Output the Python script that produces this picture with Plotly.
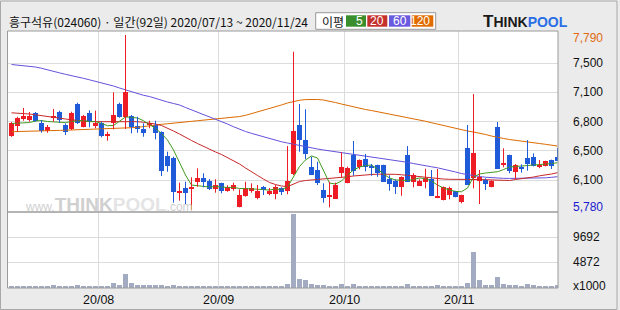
import plotly.graph_objects as go

# ---------------- data ----------------
title_text = "흥구석유(024060) · 일간(92일) 2020/07/13 ~ 2020/11/24"

open_ = [6629, 6744, 6828, 6813, 6894, 6775, 6690, 6840, 6909, 6752,
         6710, 6997, 6736, 6894, 6744, 6775, 6637, 6775, 6997, 6851,
         6859, 6744, 6710, 6752, 6756, 6675, 6400, 6380, 5986, 6032,
         6024, 6104, 6147, 6112, 6024, 6086, 6001, 6024, 5817, 5943,
         6001, 5914, 6047, 5963, 5963, 6032, 6001, 6193, 6756, 6583,
         6277, 6239, 6009, 5932, 5909, 6208, 6093, 6411, 6277, 6365,
         6277, 6296, 6296, 6135, 6112, 6047, 6411, 6104, 6058, 6104,
         6135, 5920, 5894, 5951, 5997, 5875, 6492, 6143, 6112, 6124,
         6047, 6733, 6300, 6411, 6219, 6262, 6377, 6388, 6270, 6285,
         6354, 6388]
high = [6790, 6851, 6951, 6905, 6905, 6813, 6756, 6940, 6920, 6775,
        6909, 7012, 6871, 6925, 6920, 6794, 6679, 7131, 7012, 7790,
        6871, 6851, 6775, 6805, 6805, 6683, 6449, 6392, 6093, 6104,
        6155, 6258, 6201, 6135, 6132, 6093, 6063, 6093, 6017, 6104,
        6086, 6066, 6055, 6032, 6066, 6040, 6514, 7598, 6997, 6936,
        6392, 6334, 6086, 6104, 6093, 6442, 6277, 6572, 6360, 6423,
        6308, 6300, 6300, 6178, 6132, 6165, 6514, 6201, 6132, 6254,
        6239, 6250, 6050, 6047, 6000, 5955, 6756, 7112, 6239, 6143,
        6120, 6790, 6488, 6415, 6308, 6304, 6583, 6430, 6354, 6345,
        6358, 6492]
low = [6620, 6679, 6805, 6794, 6794, 6667, 6667, 6794, 6782, 6641,
       6698, 6767, 6729, 6729, 6718, 6614, 6575, 6706, 6840, 6710,
       6660, 6667, 6621, 6718, 6591, 6170, 6219, 5863, 5886, 5848,
       5780, 6047, 6040, 6009, 5978, 5971, 5989, 6001, 5810, 5932,
       5978, 5902, 5951, 5948, 5902, 5951, 5960, 6180, 6449, 6362,
       6181, 6066, 5863, 5810, 5905, 6150, 6086, 6173, 6247, 6224,
       6173, 6162, 6101, 6001, 5963, 5943, 6101, 6040, 6055, 6028,
       5940, 5915, 5890, 5902, 5925, 5856, 6066, 6028, 5848, 6009,
       6040, 6250, 6270, 6201, 6135, 6208, 6231, 6280, 6260, 6280,
       6250, 6345]
close = [6782, 6833, 6859, 6859, 6805, 6687, 6729, 6851, 6813, 6679,
         6894, 6782, 6859, 6794, 6782, 6629, 6649, 6871, 6851, 7138,
         6729, 6713, 6667, 6782, 6667, 6231, 6288, 5989, 6001, 5978,
         6040, 6147, 6101, 6024, 6070, 6001, 6040, 6066, 5955, 6028,
         6035, 5994, 6009, 6001, 6040, 5986, 6112, 6687, 6583, 6423,
         6185, 6093, 5920, 5943, 6066, 6277, 6265, 6231, 6354, 6270,
         6262, 6208, 6104, 6078, 6047, 6162, 6104, 6181, 6112, 6143,
         5943, 5940, 6043, 6032, 5932, 5951, 6070, 6434, 6162, 6078,
         6116, 6254, 6308, 6231, 6293, 6254, 6308, 6285, 6293, 6342,
         6285, 6346]
volume = [260, 260, 260, 260, 260, 260, 260, 500, 260, 260,
          260, 500, 260, 260, 260, 260, 260, 890, 500, 2620,
          890, 500, 500, 500, 500, 500, 300, 500, 260, 260,
          260, 260, 260, 260, 260, 260, 260, 260, 260, 260,
          260, 260, 260, 260, 260, 260, 694, 14190, 1658, 1465,
          694, 500, 500, 260, 260, 694, 260, 694, 260, 260,
          260, 260, 260, 260, 260, 260, 694, 260, 260, 260,
          260, 500, 260, 260, 260, 260, 890, 6864, 1465, 500,
          500, 2040, 694, 500, 500, 260, 694, 500, 260, 260,
          260, 500]
ma5 = [6773, 6775, 6779, 6784, 6802, 6807, 6796, 6794, 6794, 6784,
       6796, 6802, 6807, 6794, 6796, 6773, 6748, 6750, 6796, 6848,
       6844, 6836, 6805, 6762, 6716, 6658, 6583, 6469, 6319, 6181,
       6066, 6061, 6049, 6043, 6049, 6043, 6038, 6040, 6026, 6026,
       6020, 6015, 6015, 6009, 6020, 6015, 6043, 6158, 6279, 6354,
       6400, 6377, 6239, 6089, 6078, 6112, 6181, 6239, 6273, 6290,
       6296, 6250, 6193, 6147, 6124, 6118, 6118, 6130, 6147, 6141,
       6112, 6066, 6032, 6009, 5992, 5989, 6032, 6158, 6193, 6204,
       6210, 6219, 6244, 6273, 6279, 6285, 6285, 6290, 6296, 6308,
       6313, 6323]
ma20 = [6896, 6894, 6890, 6882, 6873, 6865, 6856, 6848, 6834, 6825,
        6815, 6807, 6802, 6796, 6794, 6794, 6794, 6796, 6798, 6802,
        6798, 6794, 6787, 6779, 6767, 6750, 6721, 6687, 6652, 6612,
        6578, 6543, 6509, 6474, 6446, 6417, 6382, 6348, 6308, 6262,
        6216, 6176, 6135, 6095, 6072, 6055, 6047, 6078, 6107, 6118,
        6124, 6124, 6130, 6135, 6143, 6153, 6161, 6170, 6178, 6184,
        6187, 6191, 6193, 6193, 6189, 6184, 6176, 6167, 6161, 6153,
        6144, 6139, 6135, 6132, 6130, 6127, 6127, 6130, 6130, 6126,
        6122, 6118, 6116, 6118, 6130, 6138, 6147, 6158, 6172, 6181,
        6193, 6208]
ma60 = [7451, 7445, 7439, 7434, 7422, 7408, 7393, 7376, 7355, 7338,
        7325, 7310, 7292, 7275, 7258, 7241, 7221, 7204, 7181, 7158,
        7135, 7112, 7097, 7083, 7060, 7040, 7020, 7003, 6986, 6957,
        6930, 6905, 6882, 6853, 6825, 6796, 6767, 6736, 6704, 6681,
        6660, 6639, 6618, 6597, 6578, 6563, 6549, 6534, 6520, 6506,
        6494, 6480, 6469, 6459, 6451, 6442, 6432, 6423, 6413, 6403,
        6394, 6385, 6374, 6365, 6354, 6342, 6327, 6313, 6298, 6287,
        6276, 6264, 6250, 6233, 6216, 6198, 6185, 6173, 6164, 6156,
        6149, 6144, 6143, 6142, 6142, 6142, 6142, 6143, 6144, 6149,
        6155, 6162]
ma120 = [6679, 6680, 6681, 6682, 6685, 6687, 6689, 6691, 6694, 6696,
         6698, 6702, 6704, 6707, 6710, 6715, 6718, 6718, 6718, 6721,
         6725, 6729, 6739, 6750, 6758, 6764, 6770, 6775, 6782, 6790,
         6798, 6805, 6811, 6817, 6821, 6827, 6833, 6842, 6853, 6867,
         6886, 6905, 6925, 6943, 6963, 6986, 7009, 7026, 7040, 7048,
         7051, 7049, 7043, 7031, 7014, 6997, 6980, 6963, 6945, 6934,
         6922, 6909, 6896, 6882, 6871, 6859, 6845, 6830, 6815, 6799,
         6782, 6765, 6748, 6730, 6713, 6698, 6687, 6675, 6664, 6647,
         6629, 6612, 6601, 6589, 6578, 6568, 6560, 6551, 6543, 6534,
         6526, 6514]

month_first_idx = [15, 35, 56, 75]
month_labels = ["20/08", "20/09", "20/10", "20/11"]

price_grid_vals = [7465, 7131, 6794, 6460, 6124]
price_grid_labels = ["7,500", "7,100", "6,800", "6,500", "6,100"]
price_max_label = "7,790"
price_min_label = "5,780"
vol_grid_vals = [4872, 9692]
vol_grid_labels = ["4872", "9692"]
vol_unit_label = "x1000"

ma_names = ["5", "20", "60", "120"]

# ---------------- styling ----------------
W, H = 620, 310
RED = "#ee1c24"
BLUE = "#1f5ad8"
C_MA5 = "#3f9a1f"
C_MA20 = "#c8282a"
C_MA60 = "#6352dc"
C_MA120 = "#dc6a00"
BOX_COLORS = ["#3b8e2e", "#c4302b", "#6a5ae0", "#e06c00"]
GRID = "#dcdcdc"
BORDER = "#9a9a9a"
BG = "#ebebeb"
VOLC = "#a3abc2"
NUM_FONT = "Liberation Sans"
KR_FONT = "Noto Sans CJK KR"


def px(x):
    return x / W


def py(y):
    return 1 - y / H


n = len(close)
xs = list(range(n))
bw = 5 / 6

up = [i for i in xs if close[i] >= open_[i]]
dn = [i for i in xs if close[i] < open_[i]]


def wick_xy(idx):
    wx, wy = [], []
    for i in idx:
        wx += [i, i, None]
        wy += [low[i], high[i], None]
    return wx, wy


fig = go.Figure()

# bodies
fig.add_trace(go.Bar(x=up, y=[close[i] - open_[i] for i in up], base=[open_[i] for i in up],
                     width=bw, marker=dict(color=RED, line=dict(width=0)),
                     xaxis="x", yaxis="y", hoverinfo="skip"))
fig.add_trace(go.Bar(x=dn, y=[open_[i] - close[i] for i in dn], base=[close[i] for i in dn],
                     width=bw, marker=dict(color=BLUE, line=dict(width=0)),
                     xaxis="x", yaxis="y", hoverinfo="skip"))
# volume
fig.add_trace(go.Bar(x=xs, y=volume, width=bw, marker=dict(color=VOLC, line=dict(width=0)),
                     xaxis="x2", yaxis="y2", hoverinfo="skip"))

# moving averages
for vals, col in [(ma120, C_MA120), (ma60, C_MA60), (ma20, C_MA20), (ma5, C_MA5)]:
    fig.add_trace(go.Scatter(x=xs, y=vals, mode="lines", line=dict(color=col, width=1),
                             xaxis="x", yaxis="y", hoverinfo="skip"))

# wicks
for idx, col in [(up, RED), (dn, BLUE)]:
    wx, wy = wick_xy(idx)
    fig.add_trace(go.Scatter(x=wx, y=wy, mode="lines", line=dict(color=col, width=1),
                             xaxis="x", yaxis="y", hoverinfo="skip", connectgaps=False))

xrange = [-0.5833, 91.0833]
grid_x = [i - 0.5 for i in month_first_idx]

price_top_px, price_bot_px, vol_bot_px = 31, 212, 288
# linear mapping price <-> pixel
p_per_px = 11.49
p_at_35 = 7790


def price_at(ypx):
    return p_at_35 - (ypx - 35) * p_per_px


v_per_px = 192.8
v0_px = 287.6

fig.update_layout(
    width=W, height=H, margin=dict(l=0, r=0, t=0, b=0),
    paper_bgcolor=BG, plot_bgcolor="white",
    showlegend=False, barmode="overlay", bargap=0,
    xaxis=dict(domain=[px(8), px(558)], range=xrange, anchor="y",
               tickvals=grid_x, showticklabels=False, showgrid=True, gridcolor=GRID,
               gridwidth=1, zeroline=False, showline=False, ticks=""),
    xaxis2=dict(domain=[px(8), px(558)], range=xrange, anchor="y2", matches="x",
                tickvals=grid_x, showticklabels=False, showgrid=True, gridcolor=GRID,
                gridwidth=1, zeroline=False, showline=False, ticks=""),
    yaxis=dict(domain=[py(price_bot_px), py(price_top_px)],
               range=[price_at(price_bot_px), price_at(price_top_px)], anchor="x",
               tickvals=price_grid_vals, showticklabels=False, showgrid=True,
               gridcolor=GRID, zeroline=False, showline=False, ticks=""),
    yaxis2=dict(domain=[py(vol_bot_px), py(price_bot_px)],
                range=[(v0_px - vol_bot_px) * v_per_px, (v0_px - price_bot_px) * v_per_px],
                anchor="x2", tickvals=vol_grid_vals, showticklabels=False, showgrid=True,
                gridcolor=GRID, zeroline=False, showline=False, ticks=""),
)

shapes = []
# outer frame
shapes.append(dict(type="rect", xref="paper", yref="paper", x0=px(0.5), x1=px(617), y0=py(309.5), y1=py(1),
                   line=dict(color="#a8a8a8", width=1), fillcolor="rgba(0,0,0,0)", layer="above"))
# panel borders
for (t, b) in [(price_top_px, price_bot_px), (price_bot_px, vol_bot_px)]:
    shapes.append(dict(type="rect", xref="paper", yref="paper", x0=px(7.5), x1=px(558), y0=py(b), y1=py(t),
                       line=dict(color=BORDER, width=1), fillcolor="rgba(0,0,0,0)", layer="above"))
# legend box
shapes.append(dict(type="rect", xref="paper", yref="paper", x0=px(315.7), x1=px(435.7), y0=py(29.3), y1=py(12.7),
                   line=dict(color="#999999", width=1), fillcolor="white", layer="above"))
box_x = [(346, 366), (367.3, 387.3), (389, 410.3), (411.7, 433.3)]
for (a, b), col in zip(box_x, BOX_COLORS):
    shapes.append(dict(type="rect", xref="paper", yref="paper", x0=px(a), x1=px(b), y0=py(26.7), y1=py(15.3),
                       line=dict(width=0), fillcolor=col, layer="above"))

ann = []
ann.append(dict(text=title_text, xref="paper", yref="paper", x=px(7), y=py(22), xanchor="left", yanchor="middle",
                showarrow=False, font=dict(family=KR_FONT, size=12, color="#111111")))
ann.append(dict(text="이평", xref="paper", yref="paper", x=px(320), y=py(21), xanchor="left", yanchor="middle",
                showarrow=False, font=dict(family=KR_FONT, size=12, color="#111111")))
for (a, b), name in zip(box_x, ma_names):
    ann.append(dict(text=name, xref="paper", yref="paper", x=px(b - 1.5), y=py(21), xanchor="right",
                    yanchor="middle", showarrow=False, font=dict(family=NUM_FONT, size=12, color="white")))
# logo
ann.append(dict(text="<b><span style='font-size:17px'>T</span>HINK<span style='color:#2a6ee6'>POOL</span></b>",
                xref="paper", yref="paper", x=px(481), y=py(21.5), xanchor="left", yanchor="middle",
                showarrow=False, font=dict(family="Liberation Sans", size=14, color="#1a1a1a")))
# watermark
ann.append(dict(text="www.<b><span style='font-size:19px'>THINK</span>"
                     "<span style='font-size:19px;color:#e4e4e4'>POOL</span></b>.com",
                xref="paper", yref="paper", x=px(23), y=py(204), xanchor="left", yanchor="middle",
                showarrow=False, font=dict(family="Liberation Sans", size=12, color="#d0d0d0")))
# price labels
for v, t in zip(price_grid_vals, price_grid_labels):
    ann.append(dict(text=t, xref="paper", yref="y", x=px(571), y=v, xanchor="left", yanchor="middle",
                    showarrow=False, font=dict(family=NUM_FONT, size=12, color="#111111")))
ann.append(dict(text=price_max_label, xref="paper", yref="paper", x=px(571), y=py(38.5), xanchor="left",
                yanchor="middle", showarrow=False, font=dict(family=NUM_FONT, size=12, color="#e06a10")))
ann.append(dict(text=price_min_label, xref="paper", yref="paper", x=px(571), y=py(206.7), xanchor="left",
                yanchor="middle", showarrow=False, font=dict(family=NUM_FONT, size=12, color="#1a1ad0")))
for v, t in zip(vol_grid_vals, vol_grid_labels):
    ann.append(dict(text=t, xref="paper", yref="y2", x=px(571), y=v, xanchor="left", yanchor="middle",
                    showarrow=False, font=dict(family=NUM_FONT, size=12, color="#111111")))
ann.append(dict(text=vol_unit_label, xref="paper", yref="paper", x=px(571), y=py(286), xanchor="left",
                yanchor="middle", showarrow=False, font=dict(family=NUM_FONT, size=12, color="#111111")))
# month labels
for gx, t in zip(grid_x, month_labels):
    ann.append(dict(text=t, xref="x", yref="paper", x=gx, y=py(300), xanchor="center", yanchor="middle",
                    showarrow=False, font=dict(family=NUM_FONT, size=12.5, color="#111111")))

fig.update_layout(shapes=shapes, annotations=ann)
fig.write_html("out.html")
